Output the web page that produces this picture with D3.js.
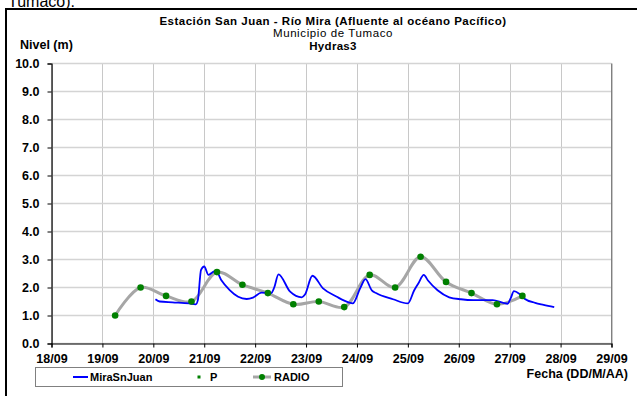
<!DOCTYPE html>
<html lang="es">
<head>
<meta charset="UTF-8">
<title>Estación San Juan - Río Mira</title>
<script src="https://cdn.jsdelivr.net/npm/d3@7"></script>
<style>
    body { margin: 0; background: #fff; }
    text { font-family: "Liberation Sans", Arial, sans-serif; }
</style>
</head>
<body>
<svg width="637" height="396"></svg>
<script>
    // serie MiraSnJuan (nivel, cada pocas horas)
    var miraTimes = [
        "20/09 01:00", "20/09 03:00", "20/09 09:00", "20/09 17:00", "20/09 20:00", "20/09 21:00",
        "20/09 22:30", "21/09 00:00", "21/09 02:00", "21/09 03:30", "21/09 05:30", "21/09 08:00",
        "21/09 12:00", "21/09 16:00", "21/09 20:00", "21/09 23:00", "22/09 03:00", "22/09 07:30",
        "22/09 09:00", "22/09 11:00", "22/09 16:30", "22/09 22:00", "22/09 23:30", "23/09 03:00",
        "23/09 08:00", "23/09 14:30", "23/09 20:00", "23/09 22:00", "24/09 01:30", "24/09 04:00",
        "24/09 07:00", "24/09 09:00", "24/09 17:00", "25/09 00:00", "25/09 03:00", "25/09 05:00",
        "25/09 07:30", "25/09 09:30", "25/09 14:00", "25/09 19:30", "26/09 01:00", "26/09 07:00",
        "26/09 16:00", "26/09 21:00", "26/09 23:00", "27/09 00:30", "27/09 02:00", "27/09 04:30",
        "27/09 07:00", "27/09 12:00", "27/09 16:00", "27/09 21:00"
    ];
    var miraValues = [
        1.58, 1.50, 1.47, 1.43, 1.40, 1.55,
        2.63, 2.75, 2.45, 2.52, 2.60, 2.27,
        1.91, 1.67, 1.59, 1.64, 1.82, 1.80,
        2.00, 2.47, 1.85, 1.65, 1.75, 2.42,
        1.97, 1.67, 1.47, 1.43, 1.97, 2.30,
        1.90, 1.80, 1.58, 1.43, 1.90, 2.15,
        2.45, 2.25, 1.90, 1.65, 1.58, 1.55,
        1.55, 1.45, 1.42, 1.62, 1.87, 1.78,
        1.60, 1.45, 1.38, 1.30
    ];

    // serie RADIO (cada 12 horas)
    var radioTimes = [
        "19/09 06:00", "19/09 18:00", "20/09 06:00", "20/09 18:00", "21/09 06:00", "21/09 18:00",
        "22/09 06:00", "22/09 18:00", "23/09 06:00", "23/09 18:00", "24/09 06:00", "24/09 18:00",
        "25/09 06:00", "25/09 18:00", "26/09 06:00", "26/09 18:00", "27/09 06:00"
    ];
    var radioValues = [1.0, 2.0, 1.7, 1.5, 2.55, 2.1, 1.8, 1.4, 1.5, 1.3, 2.45, 2.0, 3.1, 2.2, 1.8, 1.4, 1.7];

    var yTicks = [0, 1, 2, 3, 4, 5, 6, 7, 8, 9, 10];
    var legendNames = ["MiraSnJuan", "P", "RADIO"];

    var parse = d3.timeParse("%d/%m %H:%M");
    var mira = miraTimes.map(function(t, i) { return { date: parse(t), value: miraValues[i] }; });
    var radio = radioTimes.map(function(t, i) { return { date: parse(t), value: radioValues[i] }; });

    var svg = d3.select("svg");

    var x = d3.scaleTime()
        .domain([parse("18/09 00:00"), parse("29/09 00:00")])
        .range([51.5, 611.5]);
    var y = d3.scaleLinear()
        .domain([0, 10])
        .range([343.5, 63.5]);

    // texto cortado del documento (arriba del marco)
    svg.append("text").attr("x", 8).attr("y", 7).style("font-size", "16px").text("Tumaco).");

    // marco
    svg.append("rect")
        .attr("x", 6).attr("y", 9).attr("width", 640).attr("height", 400)
        .attr("fill", "none").attr("stroke", "#000").attr("stroke-width", 2);

    // rejilla
    var days = d3.timeDay.range(parse("18/09 00:00"), parse("29/09 00:01"));
    svg.append("g").selectAll("line").data(days).enter().append("line")
        .attr("x1", function(d) { return Math.round(x(d)) + 0.5; })
        .attr("x2", function(d) { return Math.round(x(d)) + 0.5; })
        .attr("y1", y(10)).attr("y2", y(0))
        .attr("stroke", "#c8c8c8").attr("stroke-width", 1);
    svg.append("g").selectAll("line").data(yTicks).enter().append("line")
        .attr("x1", x.range()[0]).attr("x2", x.range()[1])
        .attr("y1", function(d) { return y(d); })
        .attr("y2", function(d) { return y(d); })
        .attr("stroke", "#d4d4d4").attr("stroke-width", 1.5);
    // borde derecho del área
    svg.append("line")
        .attr("x1", 611.5).attr("x2", 611.5).attr("y1", y(10)).attr("y2", y(0))
        .attr("stroke", "#808080").attr("stroke-width", 1);

    // ejes
    var yAxis = svg.append("g")
        .attr("transform", "translate(51.5,0)")
        .call(d3.axisLeft(y).tickValues(yTicks).tickFormat(d3.format(".1f")).tickSize(4).tickPadding(8));
    var xAxis = svg.append("g")
        .attr("transform", "translate(0,343.5)")
        .call(d3.axisBottom(x).ticks(d3.timeDay.every(1)).tickFormat(d3.timeFormat("%d/%m")).tickSize(4).tickPadding(7));
    [yAxis, xAxis].forEach(function(a) {
        a.select(".domain").attr("stroke", "#000").attr("stroke-width", 1.2);
        a.selectAll(".tick line").attr("stroke", "#000");
        a.selectAll("text").attr("fill", "#000").style("font-size", "12.5px").style("font-weight", "bold")
            .style("font-family", "'Liberation Sans', Arial, sans-serif");
    });

    // líneas
    var radioLine = d3.line()
        .x(function(d) { return x(d.date); })
        .y(function(d) { return y(d.value); })
        .curve(d3.curveCatmullRom.alpha(0.5));
    var miraLine = d3.line()
        .x(function(d) { return x(d.date); })
        .y(function(d) { return y(d.value); })
        .curve(d3.curveMonotoneX);

    svg.append("path").datum(radio).attr("d", radioLine)
        .attr("fill", "none").attr("stroke", "#a6a6a6").attr("stroke-width", 3);
    svg.append("path").datum(mira).attr("d", miraLine)
        .attr("fill", "none").attr("stroke", "#0000ff").attr("stroke-width", 1.8);
    svg.append("g").selectAll("circle").data(radio).enter().append("circle")
        .attr("cx", function(d) { return x(d.date); })
        .attr("cy", function(d) { return y(d.value); })
        .attr("r", 3.3).attr("fill", "#008000");

    // títulos
    function label(tx, ty, str, size, bold, anchor, spacing) {
        svg.append("text").attr("x", tx).attr("y", ty)
            .attr("text-anchor", anchor || "middle")
            .style("font-size", size + "px").style("font-weight", bold ? "bold" : "normal")
            .style("letter-spacing", (spacing || 0) + "px")
            .text(str);
    }
    label(333, 25, "Estación San Juan  - Río Mira (Afluente al océano Pacífico)", 11.5, true, "middle", 0.5);
    label(333, 37, "Municipio de Tumaco", 11.5, false, "middle", 0.6);
    label(333, 49.5, "Hydras3", 11.5, true, "middle", 0.3);
    label(20, 49, "Nivel (m)", 12.5, true, "start");
    label(628, 378, "Fecha (DD/M/AA)", 12.5, true, "end");

    // leyenda
    var lg = svg.append("g");
    lg.append("rect").attr("x", 35.5).attr("y", 367.5).attr("width", 307).attr("height", 19)
        .attr("fill", "#fff").attr("stroke", "#808080").attr("stroke-width", 1);
    lg.append("line").attr("x1", 73).attr("x2", 88).attr("y1", 377).attr("y2", 377)
        .attr("stroke", "#0000ff").attr("stroke-width", 2);
    lg.append("rect").attr("x", 197.5).attr("y", 375.5).attr("width", 3).attr("height", 3).attr("fill", "#008000");
    lg.append("line").attr("x1", 253).attr("x2", 271).attr("y1", 377).attr("y2", 377)
        .attr("stroke", "#a6a6a6").attr("stroke-width", 3);
    lg.append("circle").attr("cx", 262).attr("cy", 377).attr("r", 3).attr("fill", "#008000");
    var lx = [90, 210, 274];
    legendNames.forEach(function(n, i) {
        label(lx[i], 381, n, 11, true, "start");
    });
</script>
</body>
</html>
